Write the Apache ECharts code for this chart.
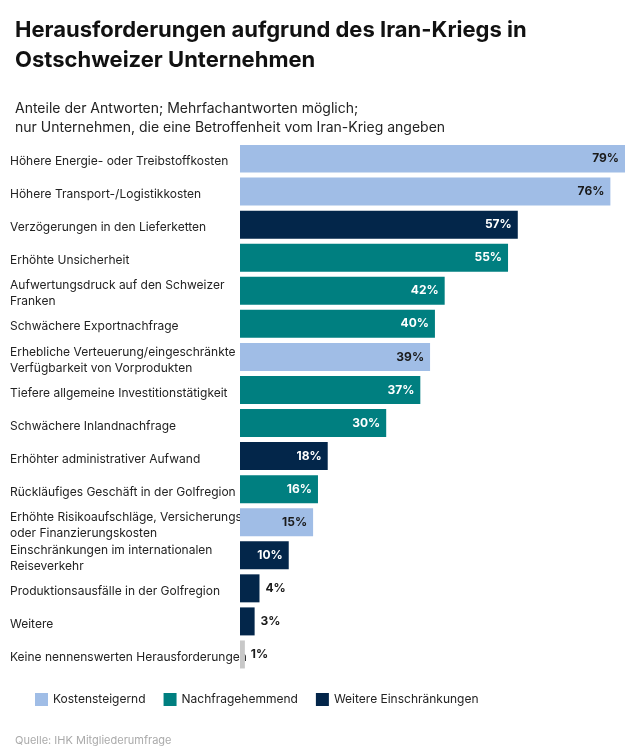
<!DOCTYPE html>
<html>
<head>
<meta charset="utf-8">
<script src="https://cdn.jsdelivr.net/npm/echarts@6/dist/echarts.min.js"></script>
<style>
body { margin: 0; background: #fff; }
#chart { width: 636px; height: 753px; }
</style>
</head>
<body>
<div id="chart"></div>
<script>
var categories = [
    'Höhere Energie- oder Treibstoffkosten',
    'Höhere Transport-/Logistikkosten',
    'Verzögerungen in den Lieferketten',
    'Erhöhte Unsicherheit',
    'Aufwertungsdruck auf den Schweizer\nFranken',
    'Schwächere Exportnachfrage',
    'Erhebliche Verteuerung/eingeschränkte\nVerfügbarkeit von Vorprodukten',
    'Tiefere allgemeine Investitionstätigkeit',
    'Schwächere Inlandnachfrage',
    'Erhöhter administrativer Aufwand',
    'Rückläufiges Geschäft in der Golfregion',
    'Erhöhte Risikoaufschläge, Versicherungs-\noder Finanzierungskosten',
    'Einschränkungen im internationalen\nReiseverkehr',
    'Produktionsausfälle in der Golfregion',
    'Weitere',
    'Keine nennenswerten Herausforderungen'
];
var values = [79, 76, 57, 55, 42, 40, 39, 37, 30, 18, 16, 15, 10, 4, 3, 1];
// 0 = Kostensteigernd, 1 = Nachfragehemmend, 2 = Weitere Einschränkungen, 3 = keine
var groups = [0, 0, 2, 1, 1, 1, 0, 1, 1, 2, 1, 0, 2, 2, 2, 3];
var groupNames = ['Kostensteigernd', 'Nachfragehemmend', 'Weitere Einschränkungen'];
var groupColors = ['#a0bde6', '#007f80', '#03264a', '#c8c8c8'];
var labelColors = ['#1a1a1a', '#ffffff', '#ffffff', '#1a1a1a'];

var chart = echarts.init(document.getElementById('chart'));
var font = 'Inter, "Noto Sans", sans-serif';

var barData = values.map(function (v, i) {
    var g = groups[i];
    var inside = v >= 10;
    return {
        value: v,
        itemStyle: { color: groupColors[g] },
        label: {
            position: inside ? 'insideRight' : 'right',
            color: inside ? labelColors[g] : '#1a1a1a'
        }
    };
});

var series = [{
    type: 'bar',
    data: barData,
    barWidth: 28,
    label: {
        show: true,
        formatter: '{c}%',
        fontFamily: font,
        fontSize: 12,
        fontWeight: 'bold',
        distance: 6
    }
}];
groupNames.forEach(function (n, i) {
    series.push({ type: 'bar', name: n, data: [], itemStyle: { color: groupColors[i] } });
});

chart.setOption({
    animation: false,
    title: [
        {
            text: 'Herausforderungen aufgrund des Iran-Kriegs in\nOstschweizer Unternehmen',
            left: 10, top: 10,
            textStyle: { fontFamily: font, fontSize: 22, fontWeight: 'bold', color: '#111', lineHeight: 30 }
        },
        {
            text: 'Anteile der Antworten; Mehrfachantworten möglich;\nnur Unternehmen, die eine Betroffenheit vom Iran-Krieg angeben',
            left: 10, top: 94,
            textStyle: { fontFamily: font, fontSize: 14, fontWeight: 'normal', color: '#222', lineHeight: 19 }
        },
        {
            text: 'Quelle: IHK Mitgliederumfrage',
            left: 10, top: 730,
            textStyle: { fontFamily: font, fontSize: 11, fontWeight: 'normal', color: '#aaa' }
        }
    ],
    legend: {
        left: 30, top: 688,
        itemWidth: 13, itemHeight: 13, itemGap: 18,
        icon: 'rect',
        textStyle: { fontFamily: font, fontSize: 12, color: '#222' },
        data: groupNames
    },
    grid: { left: 240, right: 11, top: 145, height: 529 },
    xAxis: { type: 'value', min: 0, max: 79, show: false },
    yAxis: {
        type: 'category',
        inverse: true,
        data: categories,
        axisLine: { show: false },
        axisTick: { show: false },
        axisLabel: {
            align: 'left',
            margin: 230,
            fontFamily: font,
            fontSize: 12,
            color: '#222',
            lineHeight: 16
        }
    },
    series: series
});
</script>
</body>
</html>
